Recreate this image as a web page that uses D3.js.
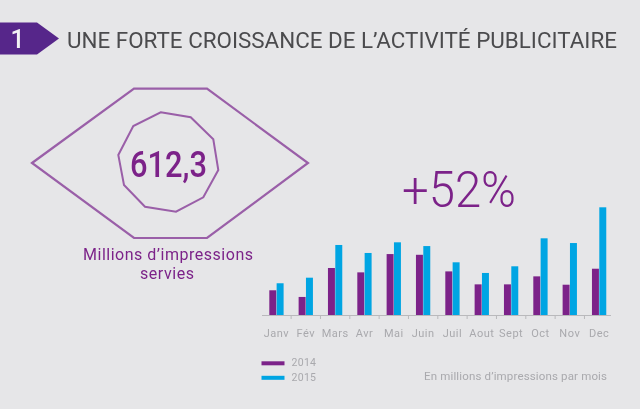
<!DOCTYPE html>
<html>
<head>
<meta charset="utf-8">
<script src="https://cdn.jsdelivr.net/npm/d3@7"></script>
<style>
  html, body { margin: 0; padding: 0; background: #e6e6e8; }
  svg { display: block; }
  text { font-family: Roboto, sans-serif; }
</style>
</head>
<body>
<svg id="chart" width="640" height="409"></svg>
<script>
var months = ["Janv", "Fév", "Mars", "Avr", "Mai", "Juin", "Juil", "Aout", "Sept", "Oct", "Nov", "Dec"];
var values2014 = [20.4, 14.9, 38.8, 35.2, 50.3, 49.7, 36, 25.3, 25.3, 31.9, 25, 38.2];
var values2015 = [26.2, 30.8, 57.8, 51.2, 60, 56.9, 43.5, 34.7, 40.2, 63.3, 59.4, 88.9];
var years = ["2014", "2015"];

var purple = "#7c2389";
var blue = "#00a5e3";
var grey = "#a9a9ad";

var svg = d3.select("#chart");

// the reference is a soft, low-res capture
var soft = svg.append("defs").append("filter").attr("id", "soft");
soft.append("feGaussianBlur").attr("stdDeviation", 0.35);

svg.append("rect").attr("width", 640).attr("height", 409).attr("fill", "#e6e6e8");
var g = svg.append("g").attr("filter", "url(#soft)");

// header
g.append("polygon")
  .attr("points", "0,22.5 37,22.5 59,38.5 37,54.5 0,54.5")
  .attr("fill", "#57258a");
g.append("text").text("1")
  .attr("x", 17.5).attr("y", 47.5).attr("text-anchor", "middle")
  .attr("font-size", 25).attr("font-weight", 500).attr("fill", "#f2f2f4");
g.append("text").text("UNE FORTE CROISSANCE DE L’ACTIVITÉ PUBLICITAIRE")
  .attr("x", 67).attr("y", 48)
  .attr("font-size", 22.5).attr("fill", "#4b4b4e")
  .attr("textLength", 550).attr("lengthAdjust", "spacingAndGlyphs");

// eye
g.append("polygon")
  .attr("points", "32,163 134,88.7 207,88.7 308,163 207,238 134,238")
  .attr("fill", "none").attr("stroke", "#9a5fa8").attr("stroke-width", 2.2);
g.append("polygon")
  .attr("points", "160.7,112.3 190.7,117.3 213.3,139.3 218.3,170 203.3,197.3 176,211.7 145,206.7 124,185 118.3,155 133.3,126")
  .attr("fill", "none").attr("stroke", "#9a5fa8").attr("stroke-width", 2);
g.append("text").text("612,3")
  .attr("x", 130).attr("y", 176.5)
  .attr("font-size", 37).attr("font-weight", 500).attr("fill", purple)
  .attr("textLength", 77).attr("lengthAdjust", "spacingAndGlyphs");

g.append("text").text("Millions d’impressions")
  .attr("x", 83).attr("y", 260)
  .attr("font-size", 16).attr("fill", purple)
  .attr("textLength", 170);
g.append("text").text("servies")
  .attr("x", 140).attr("y", 279)
  .attr("font-size", 16).attr("fill", purple)
  .attr("textLength", 54);

g.append("text").text("+52%")
  .attr("x", 402).attr("y", 207)
  .attr("font-size", 50).attr("font-weight", 300).attr("fill", purple)
  .attr("textLength", 114).attr("lengthAdjust", "spacingAndGlyphs");

// bars
var x = d3.scaleBand().domain(months).range([261.8, 613.8]);
var x1 = d3.scaleBand().domain(years).range([7.5, 21.8]).paddingInner(0.05);
var y = d3.scaleLinear().domain([0, 88.9]).range([315, 207.3]);

g.append("g").selectAll("rect")
  .data(values2014)
  .join("rect")
  .attr("x", (d, i) => x(months[i]) + x1("2014"))
  .attr("y", d => y(d))
  .attr("width", x1.bandwidth())
  .attr("height", d => y(0) - y(d))
  .attr("fill", purple);

g.append("g").selectAll("rect")
  .data(values2015)
  .join("rect")
  .attr("x", (d, i) => x(months[i]) + x1("2015"))
  .attr("y", d => y(d))
  .attr("width", x1.bandwidth())
  .attr("height", d => y(0) - y(d))
  .attr("fill", blue);

// axis
var axis = g.append("g");
axis.append("line")
  .attr("x1", 262).attr("x2", 611).attr("y1", 315.5).attr("y2", 315.5)
  .attr("stroke", "#b9b9bc").attr("stroke-width", 1.2);
axis.selectAll("line.tick")
  .data(months.slice(1))
  .join("line")
  .attr("class", "tick")
  .attr("x1", d => x(d)).attr("x2", d => x(d))
  .attr("y1", 315.5).attr("y2", 319)
  .attr("stroke", "#b9b9bc");
axis.selectAll("text")
  .data(months)
  .join("text")
  .text(d => d)
  .attr("x", d => x(d) + x.bandwidth() / 2)
  .attr("y", 337)
  .attr("text-anchor", "middle")
  .attr("font-size", 11).attr("letter-spacing", 0.5)
  .attr("fill", grey);

// legend
var legend = g.append("g").selectAll("g")
  .data(years)
  .join("g")
  .attr("transform", (d, i) => "translate(261.5," + (363.3 + i * 14.5) + ")");
legend.append("rect")
  .attr("y", -2).attr("width", 23).attr("height", 4)
  .attr("fill", (d, i) => i == 0 ? purple : blue);
legend.append("text").text(d => d)
  .attr("x", 30).attr("y", 3)
  .attr("font-size", 10.5).attr("letter-spacing", 0.3).attr("fill", grey);

g.append("text").text("En millions d’impressions par mois")
  .attr("x", 424).attr("y", 380)
  .attr("font-size", 11.5).attr("fill", grey)
  .attr("textLength", 183);
</script>
</body>
</html>
